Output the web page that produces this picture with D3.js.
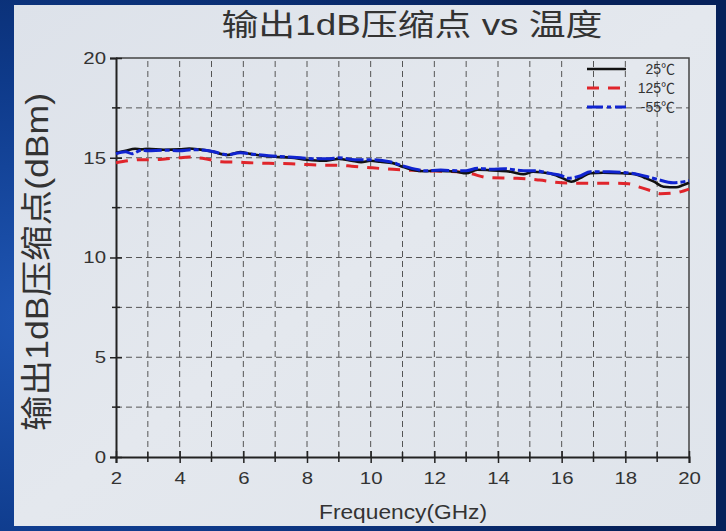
<!DOCTYPE html>
<html>
<head>
<meta charset="utf-8">
<script src="https://cdn.jsdelivr.net/npm/d3@7/dist/d3.min.js"></script>
<style>
  html, body { margin: 0; padding: 0; background: #0b2b6b; }
  svg { display: block; }
  text { font-family: "Liberation Sans", Arial, "Noto Sans CJK SC", sans-serif; fill: #333; }
</style>
</head>
<body>
<svg id="chart" width="726" height="531"></svg>
<script>
// 25℃ curve
const freq25 = [2.0,2.3,2.6,2.8,3.0,3.5,4.0,4.3,4.6,5.0,5.5,5.9,6.2,6.6,7.0,7.5,8.0,8.5,9.0,9.4,9.7,10.0,10.3,10.7,11.0,11.3,11.7,12.0,12.4,12.7,13.0,13.35,13.7,14.0,14.4,14.8,15.1,15.6,16.0,16.3,16.6,16.9,17.3,17.9,18.3,18.6,18.9,19.2,19.6,19.8,20.0];
const p1dB25 = [15.25,15.35,15.45,15.42,15.45,15.40,15.42,15.46,15.42,15.32,15.14,15.29,15.2,15.1,15.05,15.0,14.9,14.85,14.94,14.85,14.78,14.85,14.8,14.73,14.55,14.4,14.32,14.35,14.33,14.3,14.22,14.4,14.38,14.35,14.3,14.17,14.3,14.22,14.0,13.8,14.0,14.22,14.25,14.22,14.18,14.0,13.8,13.55,13.52,13.62,13.75];

// 125℃ curve
const freq125 = [2.0,2.4,2.75,3.2,3.6,4.0,4.3,4.8,5.3,5.8,6.2,6.8,7.5,8.0,8.6,9.0,9.4,10.0,10.7,11.2,11.6,12.0,12.7,13.1,13.7,14.6,15.3,16.0,16.9,17.7,18.1,18.4,18.8,19.1,19.6,20.0];
const p1dB125 = [14.75,14.85,14.9,14.9,14.95,15.0,15.04,14.95,14.8,14.78,14.75,14.72,14.7,14.66,14.62,14.62,14.58,14.5,14.42,14.38,14.35,14.33,14.3,14.22,14.0,13.97,13.88,13.75,13.72,13.72,13.7,13.55,13.35,13.2,13.25,13.43];

// -55℃ curve
const freqM55 = [2.0,2.3,2.5,2.8,3.0,3.5,4.0,4.4,4.8,5.2,5.5,5.9,6.3,6.8,7.3,7.8,8.2,8.7,9.0,9.5,10.0,10.6,11.0,11.5,11.7,12.2,12.7,13.0,13.35,13.8,14.2,14.8,15.2,15.6,16.0,16.2,16.6,16.9,17.5,17.9,18.3,18.7,19.0,19.5,20.0];
const p1dBM55 = [15.2,15.3,15.2,15.38,15.35,15.38,15.35,15.4,15.38,15.25,15.15,15.25,15.18,15.1,15.05,15.0,14.95,14.95,15.0,14.9,14.9,14.8,14.6,14.4,14.35,14.38,14.35,14.35,14.47,14.42,14.45,14.35,14.35,14.22,14.1,13.97,14.1,14.3,14.3,14.27,14.2,14.05,13.92,13.75,13.85];

const seriesNames = ["25℃", "125℃", "-55℃"];
const xTickLabels = [2, 4, 6, 8, 10, 12, 14, 16, 18, 20];
const yTickLabels = [0, 5, 10, 15, 20];
const titleText = "输出1dB压缩点 vs 温度";
const xTitle = "Frequency(GHz)";
const yTitle = "输出1dB压缩点(dBm)";

const svg = d3.select("#chart");
const W = 726, H = 531;

// backdrop: deep blue with a lighter glow, and the light slide panel
const defs = svg.append("defs");
const bg = defs.append("radialGradient").attr("id", "bgGlow")
  .attr("cx", "0.05").attr("cy", "0.6").attr("r", "0.9");
bg.append("stop").attr("offset", "0").attr("stop-color", "#1f56b4");
bg.append("stop").attr("offset", "0.5").attr("stop-color", "#0e3a8a");
bg.append("stop").attr("offset", "1").attr("stop-color", "#06215a");
svg.append("rect").attr("width", W).attr("height", H).attr("fill", "url(#bgGlow)");

const pg = defs.append("linearGradient").attr("id", "panelFill")
  .attr("x1", "0").attr("y1", "0").attr("x2", "1").attr("y2", "1");
pg.append("stop").attr("offset", "0").attr("stop-color", "#dde2ea");
pg.append("stop").attr("offset", "0.5").attr("stop-color", "#e4e8ee");
pg.append("stop").attr("offset", "1").attr("stop-color", "#dfe4eb");
svg.append("rect").attr("x", 14).attr("y", 5).attr("width", 702).attr("height", 521)
  .attr("fill", "url(#panelFill)");

// plot area
const m = { left: 116, right: 689, top: 58, bottom: 457 };
const x = d3.scaleLinear().domain([2, 20]).range([m.left, m.right]);
const y = d3.scaleLinear().domain([0, 20]).range([m.bottom, m.top]);

const grid = svg.append("g").attr("stroke", "#555").attr("stroke-width", 1)
  .attr("stroke-dasharray", "6,4");
d3.range(3, 20, 1).forEach(v => {
  grid.append("line").attr("x1", x(v)).attr("x2", x(v)).attr("y1", y(0)).attr("y2", y(20));
});
d3.range(2.5, 20, 2.5).forEach(v => {
  grid.append("line").attr("x1", x(2)).attr("x2", x(20)).attr("y1", y(v)).attr("y2", y(v));
});

// frame (top/right)
svg.append("path")
  .attr("d", `M${x(2)},${y(20)}H${x(20)}V${y(0)}`)
  .attr("fill", "none").attr("stroke", "#444").attr("stroke-width", 1.5);

// axes
const xAxis = d3.axisBottom(x).tickValues(xTickLabels).tickSize(6).tickPadding(6)
  .tickFormat(d3.format("d"));
const gx = svg.append("g").attr("transform", `translate(0,${y(0)})`).call(xAxis);
const yAxis = d3.axisLeft(y).tickValues(yTickLabels).tickSize(6).tickPadding(4)
  .tickFormat(d3.format("d"));
const gy = svg.append("g").attr("transform", `translate(${x(2)},0)`).call(yAxis);

[gx, gy].forEach(g => {
  g.select(".domain").attr("stroke", "#222").attr("stroke-width", 2);
  g.selectAll(".tick line").attr("stroke", "#222").attr("stroke-width", 1.5);
  g.selectAll(".tick text").attr("fill", "#333").style("font-size", "17px")
    .style("font-family", "'Liberation Sans', Arial, sans-serif");
});
gx.selectAll(".tick text").attr("dy", "0.9em");
// ticks crossing the axis line
gx.selectAll(".tick line").attr("y1", -6).attr("y2", 6);
gy.selectAll(".tick line").attr("x1", 6).attr("x2", -6);

// minor ticks
const minor = svg.append("g").attr("stroke", "#222").attr("stroke-width", 1.5);
d3.range(3, 20, 2).forEach(v => {
  minor.append("line").attr("x1", x(v)).attr("x2", x(v)).attr("y1", y(0) - 5).attr("y2", y(0) + 5);
});
d3.range(2.5, 20, 5).forEach(v => {
  minor.append("line").attr("x1", x(2) - 4).attr("x2", x(2) + 4).attr("y1", y(v)).attr("y2", y(v));
});

// curves
const line = d3.line().x(d => x(d[0])).y(d => y(d[1])).curve(d3.curveMonotoneX);
const series = [
  { name: seriesNames[0], f: freq25, v: p1dB25, color: "#111", width: 2.6, dash: null },
  { name: seriesNames[1], f: freq125, v: p1dB125, color: "#e0252b", width: 3, dash: "12,9" },
  { name: seriesNames[2], f: freqM55, v: p1dBM55, color: "#1024d0", width: 3, dash: "18,3,5,3" }
];
const drawOrder = [1, 0, 2];
drawOrder.forEach(i => {
  const s = series[i];
  svg.append("path")
    .datum(d3.zip(s.f, s.v))
    .attr("d", line)
    .attr("fill", "none")
    .attr("stroke", s.color)
    .attr("stroke-width", s.width)
    .attr("stroke-linejoin", "round")
    .attr("stroke-dasharray", s.dash);
});

// legend
const leg = svg.append("g");
series.forEach((s, i) => {
  const ly = 69 + i * 19;
  leg.append("line").attr("x1", 587).attr("x2", 626).attr("y1", ly).attr("y2", ly)
    .attr("stroke", s.color).attr("stroke-width", s.width)
    .attr("stroke-dasharray", i === 2 ? "16,4,4,4" : s.dash);
  leg.append("text").attr("x", 675).attr("y", ly + 5).attr("text-anchor", "end")
    .style("font-size", "14px").text(s.name);
});

// titles
svg.append("text").attr("x", 412).attr("y", 35).attr("text-anchor", "middle")
  .style("font-size", "30px")
  .attr("fill", "#333")
  .attr("textLength", 381).attr("lengthAdjust", "spacingAndGlyphs")
  .text(titleText);

svg.append("text").attr("x", 403).attr("y", 519).attr("text-anchor", "middle")
  .style("font-size", "20px")
  .attr("textLength", 168).attr("lengthAdjust", "spacingAndGlyphs")
  .text(xTitle);

svg.append("text").attr("transform", "translate(48,262) rotate(-90)")
  .attr("text-anchor", "middle")
  .style("font-size", "32px")
  .attr("textLength", 338).attr("lengthAdjust", "spacingAndGlyphs")
  .text(yTitle);

// tick labels are drawn a bit wide
svg.selectAll(".tick text").each(function () {
  const w = this.getComputedTextLength();
  d3.select(this).attr("textLength", w * 1.2).attr("lengthAdjust", "spacingAndGlyphs");
});
</script>
</body>
</html>
